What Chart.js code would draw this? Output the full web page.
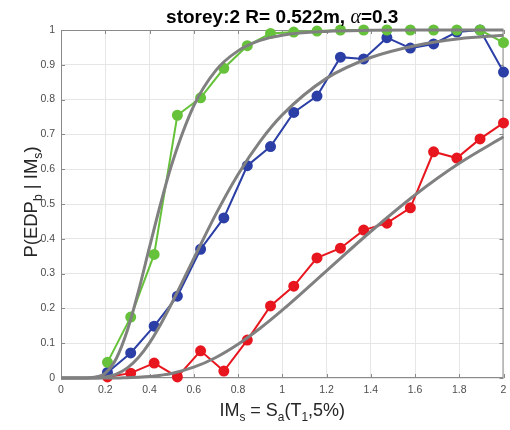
<!DOCTYPE html>
<html>
<head>
<meta charset="utf-8">
<script src="https://cdn.jsdelivr.net/npm/chart.js@4.4.1/dist/chart.umd.min.js"></script>
<style>
  html, body { margin: 0; padding: 0; background: #fff; }
  #wrap { width: 510px; height: 430px; }
</style>
</head>
<body>
<div id="wrap"><canvas id="myChart" width="510" height="430"></canvas></div>
<script>
// observed points (IM levels)
const imLevels = [0.21, 0.315, 0.421, 0.526, 0.631, 0.736, 0.842, 0.947, 1.052, 1.157, 1.263, 1.368, 1.473, 1.579, 1.684, 1.789, 1.894, 2.0];
const greenPts = [0.045, 0.175, 0.355, 0.755, 0.805, 0.89, 0.955, 0.99, 0.994, 0.997, 1.0, 1.0, 1.0, 1.0, 1.0, 1.0, 1.0, 0.964];
const bluePts  = [0.016, 0.072, 0.149, 0.235, 0.37, 0.46, 0.61, 0.665, 0.763, 0.81, 0.922, 0.917, 0.978, 0.948, 0.96, 0.994, 1.0, 0.879];
const redPts   = [0.003, 0.014, 0.043, 0.003, 0.078, 0.02, 0.109, 0.207, 0.264, 0.345, 0.373, 0.425, 0.445, 0.489, 0.65, 0.632, 0.687, 0.733];

// fitted curves (gray)
const fitX     = [0, 0.1, 0.15, 0.2, 0.25, 0.3, 0.35, 0.4, 0.45, 0.5, 0.6, 0.7, 0.8, 0.9, 1.0, 1.2, 1.4, 1.6, 1.8, 2.0];
const greenFit = [0, 0, 0.002, 0.014, 0.056, 0.137, 0.249, 0.376, 0.5, 0.613, 0.782, 0.884, 0.94, 0.97, 0.985, 0.996, 0.999, 1, 1, 1];
const blueFit  = [0, 0, 0, 0.003, 0.011, 0.029, 0.059, 0.101, 0.154, 0.214, 0.343, 0.471, 0.585, 0.68, 0.756, 0.861, 0.921, 0.955, 0.975, 0.985];
const redFit   = [0, 0, 0, 0, 0, 0.001, 0.002, 0.004, 0.008, 0.013, 0.031, 0.059, 0.097, 0.143, 0.195, 0.308, 0.421, 0.526, 0.617, 0.693];

const xTicks = [0, 0.2, 0.4, 0.6, 0.8, 1, 1.2, 1.4, 1.6, 1.8, 2];
const yTicks = [0, 0.1, 0.2, 0.3, 0.4, 0.5, 0.6, 0.7, 0.8, 0.9, 1];

const FONT = "'Liberation Sans', Arial, sans-serif";
const GRAY = '#808080';

function pts(xs, ys) {
    return xs.map((x, i) => ({ x: x, y: ys[i] }));
}

function fitSet(ys) {
    return {
        data: pts(fitX, ys),
        borderColor: GRAY,
        borderWidth: 3,
        pointRadius: 0,
        showLine: true,
        cubicInterpolationMode: 'monotone',
        clip: false
    };
}

function obsSet(ys, color) {
    return {
        data: pts(imLevels, ys),
        borderColor: color,
        backgroundColor: color,
        borderWidth: 2,
        pointRadius: 4.5,
        pointHoverRadius: 4.5,
        showLine: true,
        clip: false
    };
}

// draw a run of [text, isSub] pieces starting at x along baseline y
function drawRich(ctx, parts, x, y, size) {
    let cx = x;
    parts.forEach(p => {
        const s = p[1] ? size * 0.66 : size;
        ctx.font = s + 'px ' + FONT;
        ctx.fillText(p[0], cx, p[1] ? y + size * 0.25 : y);
        cx += ctx.measureText(p[0]).width;
    });
}
function richWidth(ctx, parts, size) {
    let w = 0;
    parts.forEach(p => {
        ctx.font = (p[1] ? size * 0.66 : size) + 'px ' + FONT;
        w += ctx.measureText(p[0]).width;
    });
    return w;
}

const labelsPlugin = {
    id: 'labels',
    beforeDatasetsDraw(chart) {
        const { ctx, chartArea: a, scales } = chart;
        ctx.save();
        // inner tick marks
        ctx.strokeStyle = '#8a8a8a';
        ctx.lineWidth = 1;
        xTicks.forEach(t => {
            const px = Math.round(scales.x.getPixelForValue(t)) + 0.5;
            ctx.beginPath();
            ctx.moveTo(px, a.bottom); ctx.lineTo(px, a.bottom - 4);
            ctx.moveTo(px, a.top); ctx.lineTo(px, a.top + 4);
            ctx.stroke();
        });
        yTicks.forEach(t => {
            const py = Math.round(scales.y.getPixelForValue(t)) + 0.5;
            ctx.beginPath();
            ctx.moveTo(a.left, py); ctx.lineTo(a.left + 4, py);
            ctx.moveTo(a.right, py); ctx.lineTo(a.right - 4, py);
            ctx.stroke();
        });
        ctx.strokeRect(a.left + 0.5, a.top + 0.5, a.right - a.left - 1, a.bottom - a.top - 1);
        ctx.restore();
    },
    afterDraw(chart) {
        const { ctx, chartArea: a } = chart;
        const mid = (a.left + a.right) / 2;
        ctx.save();
        ctx.fillStyle = '#000';
        ctx.textBaseline = 'alphabetic';
        ctx.textAlign = 'left';

        // title
        const t1 = 'storey:2 R= 0.522m, ', t2 = 'α', t3 = '=0.3';
        const bold = 'bold 19px ' + FONT, ital = 'italic 20px "Liberation Serif", serif';
        ctx.font = bold; const w1 = ctx.measureText(t1).width, w3 = ctx.measureText(t3).width;
        ctx.font = ital; const w2 = ctx.measureText(t2).width;
        let tx = mid - (w1 + w2 + w3) / 2;
        ctx.font = bold; ctx.fillText(t1, tx, 23); tx += w1;
        ctx.font = ital; ctx.fillText(t2, tx, 23); tx += w2;
        ctx.font = bold; ctx.fillText(t3, tx, 23);

        // x axis title
        ctx.fillStyle = '#262626';
        const xParts = [['IM', 0], ['s', 1], [' = S', 0], ['a', 1], ['(T', 0], ['1', 1], [',5%)', 0]];
        const xs = 18;
        drawRich(ctx, xParts, mid - richWidth(ctx, xParts, xs) / 2, 416, xs);

        // y axis title
        const yParts = [['P(EDP', 0], ['b', 1], [' | IM', 0], ['s', 1], [')', 0]];
        const ys = 18.5;
        ctx.translate(37, 202);
        ctx.rotate(-Math.PI / 2);
        drawRich(ctx, yParts, -richWidth(ctx, yParts, ys) / 2, 0, ys);
        ctx.restore();
    }
};

new Chart(document.getElementById('myChart').getContext('2d'), {
    type: 'scatter',
    data: {
        datasets: [
            fitSet(greenFit),
            fitSet(blueFit),
            fitSet(redFit),
            obsSet(greenPts, '#66c23a'),
            obsSet(bluePts, '#2b3fa6'),
            obsSet(redPts, '#e8161e')
        ]
    },
    options: {
        responsive: false,
        animation: false,
        events: [],
        layout: { padding: { top: 30, right: 0, left: 0, bottom: 0 } },
        plugins: {
            legend: { display: false },
            title: { display: false },
            tooltip: { enabled: false }
        },
        scales: {
            x: {
                type: 'linear',
                min: 0, max: 2,
                afterBuildTicks: s => { s.ticks = xTicks.map(v => ({ value: v })); },
                afterFit: s => { s.height = 52; s.paddingRight = 5; },
                grid: { color: '#e6e6e6', drawTicks: false },
                border: { display: false },
                ticks: { padding: 6, color: '#4d4d4d', font: { family: FONT, size: 10.5 }, maxRotation: 0,
                         callback: v => String(v) }
            },
            y: {
                type: 'linear',
                min: 0, max: 1,
                afterBuildTicks: s => { s.ticks = yTicks.map(v => ({ value: v })); },
                afterFit: s => { s.width = 61; },
                grid: { color: '#e6e6e6', drawTicks: false },
                border: { display: false },
                ticks: { padding: 6, color: '#4d4d4d', font: { family: FONT, size: 10.5 },
                         callback: v => String(v) }
            }
        }
    },
    plugins: [labelsPlugin]
});
</script>
</body>
</html>
